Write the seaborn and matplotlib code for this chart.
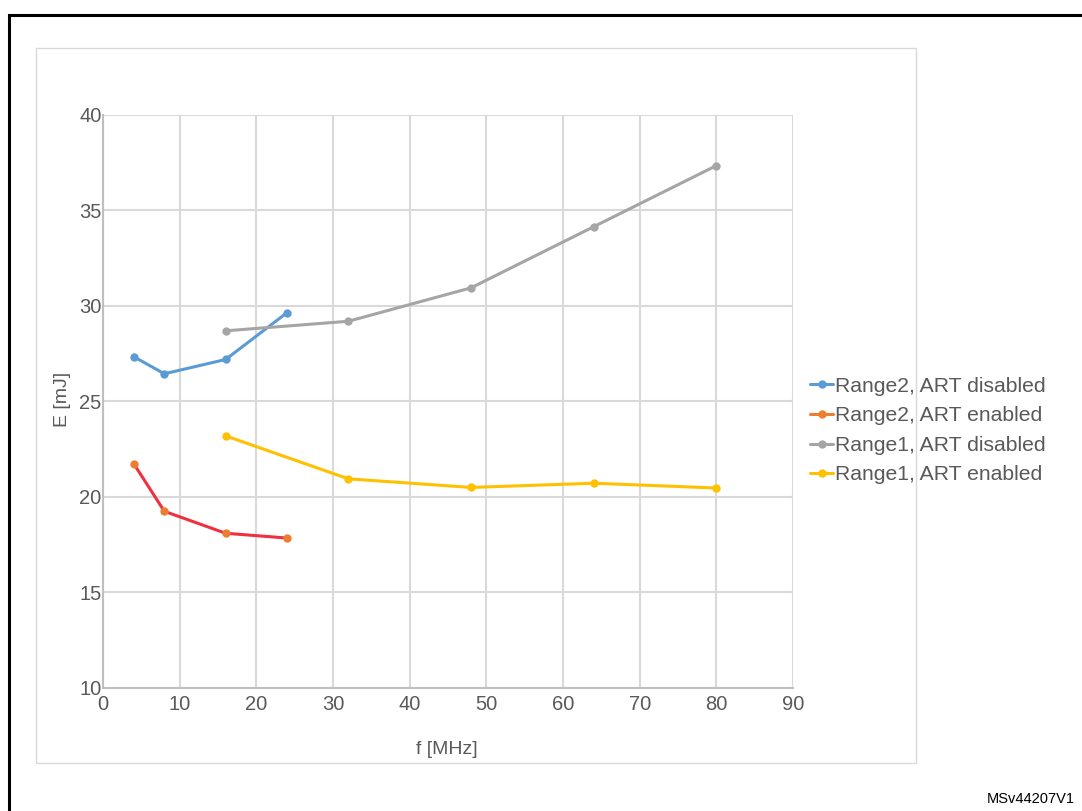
import matplotlib
matplotlib.use("Agg")
import matplotlib.pyplot as plt
import matplotlib.patches as mpatches
import pandas as pd
import seaborn as sns

# values
freq_range2 = [4, 8, 16, 24]
range2_art_disabled = [27.35, 26.45, 27.2, 29.65]
range2_art_enabled = [21.75, 19.25, 18.1, 17.85]

freq_range1 = [16, 32, 48, 64, 80]
range1_art_disabled = [28.7, 29.2, 30.95, 34.15, 37.35]
range1_art_enabled = [23.2, 20.95, 20.5, 20.72, 20.47]

series_names = ["Range2, ART disabled", "Range2, ART enabled",
                "Range1, ART disabled", "Range1, ART enabled"]
series_colors = ["#5B9BD5", "#ED7D31", "#A5A5A5", "#FFC000"]


def build_frame():
    rows = []
    for name, xs, ys in [(series_names[0], freq_range2, range2_art_disabled),
                         (series_names[1], freq_range2, range2_art_enabled),
                         (series_names[2], freq_range1, range1_art_disabled),
                         (series_names[3], freq_range1, range1_art_enabled)]:
        for x, y in zip(xs, ys):
            rows.append({"f": x, "E": y, "series": name})
    return pd.DataFrame(rows)


def main():
    sns.set_theme(style="white")
    plt.rcParams["font.family"] = ["Liberation Sans", "DejaVu Sans"]

    fig = plt.figure(figsize=(10.82, 8.11), dpi=100)
    ax = fig.add_axes([0.0952, 0.1517, 0.6377, 0.7065])

    df = build_frame()
    sns.lineplot(data=df, x="f", y="E", hue="series", hue_order=series_names,
                 palette=series_colors, marker="o", markersize=6,
                 markeredgewidth=0, linewidth=2.2, sort=False, ax=ax,
                 legend=False)

    # the Range2 enabled line is drawn more red than its markers
    ax.lines[1].set_color("#F0303E")
    ax.lines[1].set_markerfacecolor("#ED7D31")

    ax.set_xlim(0, 90)
    ax.set_ylim(10, 40)
    ax.set_xticks(range(0, 91, 10))
    ax.set_yticks(range(10, 41, 5))
    ax.grid(True, color="#D9D9D9", linewidth=1.5)
    ax.set_axisbelow(True)
    for side in ["top", "right"]:
        ax.spines[side].set_visible(False)
    for side in ["left", "bottom"]:
        ax.spines[side].set_color("#BFBFBF")
        ax.spines[side].set_linewidth(1.5)
    ax.tick_params(colors="#595959", labelsize=14.5, length=0)
    ax.tick_params(axis="y", pad=1)
    ax.tick_params(axis="x", pad=5)
    ax.set_xlabel("f [MHz]", fontsize=14, color="#595959")
    ax.set_ylabel("E [mJ]", fontsize=14, color="#595959")
    ax.xaxis.set_label_coords(0.4986, -0.0925)
    ax.yaxis.set_label_coords(-0.046, 0.503)

    handles = [plt.Line2D([], [], color=c, marker="o", markersize=6,
                          markeredgewidth=0, linewidth=2.2)
               for c in series_colors]
    fig.legend(handles, series_names, loc="center left",
               bbox_to_anchor=(0.739, 0.469), frameon=False, fontsize=15.2,
               labelcolor="#595959", handlelength=1.1, handletextpad=0.08,
               labelspacing=0.5, borderpad=0)

    # chart area box and outer frame
    fig.patches.append(mpatches.Rectangle((36 / 1082, 1 - 763 / 811),
                                          880 / 1082, 715 / 811,
                                          transform=fig.transFigure,
                                          fill=False, edgecolor="#D9D9D9",
                                          linewidth=1))
    fig.patches.append(mpatches.Rectangle((9 / 1082, -0.05), 1.1, 1.05 - 15 / 811,
                                          transform=fig.transFigure,
                                          fill=False, edgecolor="black",
                                          linewidth=2.2))

    fig.text(0.993, 1 - 799 / 811, "MSv44207V1", ha="right", va="center",
             fontsize=10.5, color="black")

    plt.savefig("out.png", dpi=100)


if __name__ == '__main__':
    main()
